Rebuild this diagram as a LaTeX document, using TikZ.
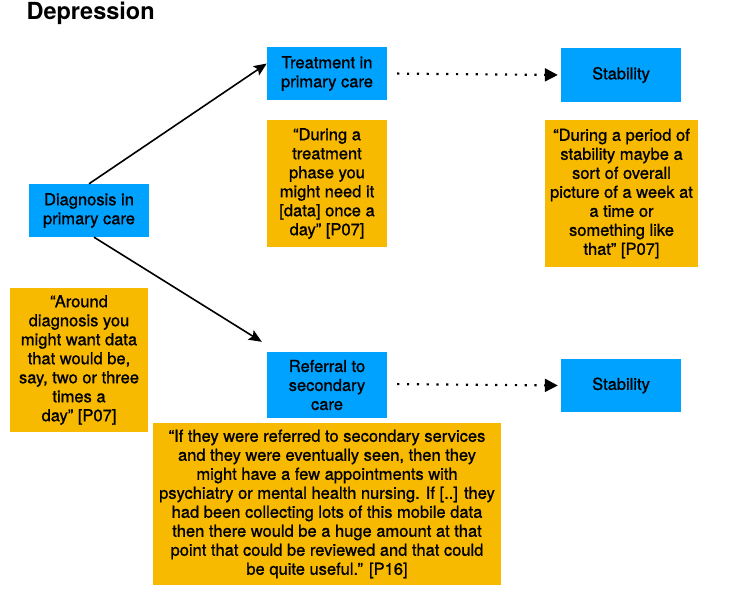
\documentclass[tikz,border=0pt]{standalone}
\usepackage{fontspec}
\setmainfont{TeX Gyre Heros}
\newfontfamily\boxfont[FakeBold=1.0]{TeX Gyre Heros}
\usetikzlibrary{arrows.meta}
\definecolor{stageblue}{RGB}{0,162,255}
\definecolor{quoteamber}{RGB}{248,186,0}
\tikzset{
  stagebox/.style={fill=stageblue, inner sep=0pt, align=center, minimum width=120pt, font=\boxfont\fontsize{16.5}{19}\selectfont},
  quotebox/.style={fill=quoteamber, inner sep=0pt, align=center, font=\boxfont\fontsize{16.5}{19}\selectfont},
  flowline/.style={line width=1.6pt, -{Stealth[length=13pt,width=11pt,inset=2.5pt]}},
  laterline/.style={line width=2.2pt, dash pattern=on 2.2pt off 7.6pt, -{Triangle[length=13pt,width=13pt]}, shorten <=10pt, shorten >=3pt}
}
\begin{document}
\begin{tikzpicture}[x=1pt,y=1pt,yscale=-1,xscale=1]
\useasboundingbox (0,0) rectangle (735,592);
% Title
\node (title) [anchor=west, font=\fontsize{23.5}{26}\selectfont\bfseries] at (23,13.5) {Depression};
% Stages
\node (diag) [stagebox, minimum height=53pt] at (89,210.5) {Diagnosis in\\primary care};
\node (treat) [stagebox, minimum height=53pt] at (327,73.5) {Treatment in\\primary care};
\node (refer) [stagebox, minimum height=66pt] at (327,385) {Referral to\\secondary\\care};
\node (stabtop) [stagebox, minimum height=54pt] at (621,75) {Stability};
\node (stabbot) [stagebox, minimum height=53pt] at (621,385.5) {Stability};
% Quotes
\node (qtreat) [quotebox, minimum width=120pt, minimum height=127pt] at (327,183.5) {“During a\\treatment\\phase you\\might need it\\{[data]} once a\\day” [P07]};
\node (qstab) [quotebox, minimum width=153pt, minimum height=147pt] at (621.5,193.5) {“During a period of\\stability maybe a\\sort of overall\\picture of a week at\\a time or\\something like\\that” [P07]};
\node (qdiag) [quotebox, minimum width=138pt, minimum height=144pt] at (79,360) {“Around\\diagnosis you\\might want data\\that would be,\\say, two or three\\times a\\day” [P07]};
\node (qrefer) [quotebox, minimum width=348pt, minimum height=162pt] at (327,504) {“If they were referred to secondary services\\and they were eventually seen, then they\\might have a few appointments with\\psychiatry or mental health nursing. If [..] they\\had been collecting lots of this mobile data\\then there would be a huge amount at that\\point that could be reviewed and that could\\be quite useful.” [P16]};
% Connectors
\draw [flowline] (diag.north) -- ([yshift=-10pt]treat.west);
\draw [flowline] ([xshift=5pt]diag.south) -- ([xshift=-5pt,yshift=-10pt]refer.north west);
\draw [laterline] (treat.east) -- (stabtop.west);
\draw [laterline] ([yshift=-1pt]refer.east) -- (stabbot.west);
\end{tikzpicture}
\end{document}
